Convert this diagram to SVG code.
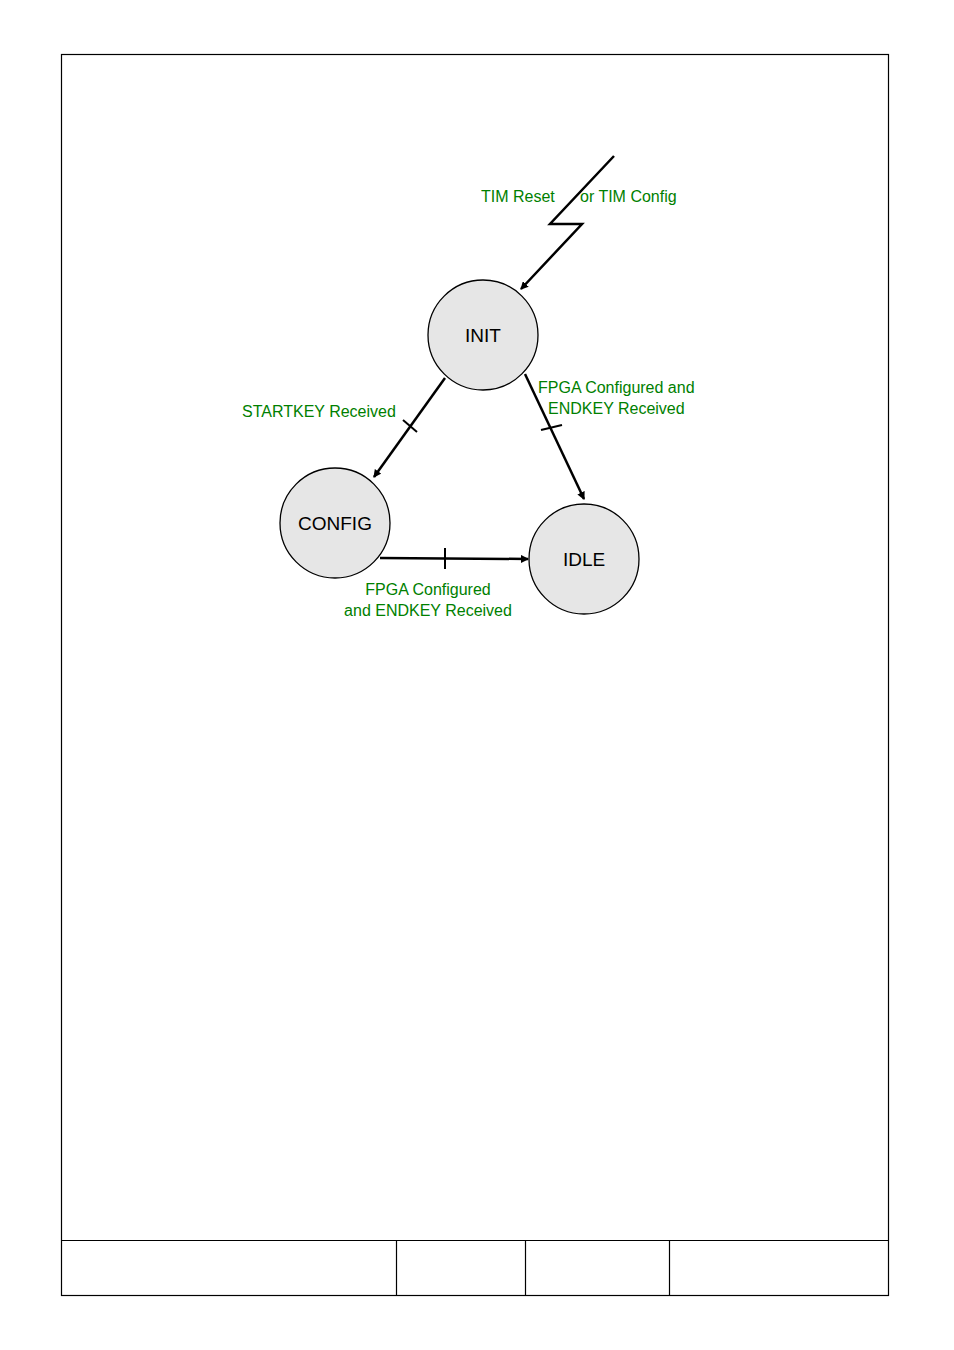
<svg xmlns="http://www.w3.org/2000/svg" width="954" height="1350" viewBox="0 0 954 1350">
<style>
.st{fill:#e6e6e6;stroke:#000;stroke-width:1.3}
.nl{font-family:"Liberation Sans",Arial,sans-serif;font-size:19px;fill:#000;text-anchor:middle}
.lb{font-family:"Liberation Sans",Arial,sans-serif;font-size:16px;fill:#008000}
.c{fill:none;stroke:#000;stroke-width:2.5}
.t{stroke:#000;stroke-width:2}
.f{fill:none;stroke:#000;stroke-width:1.2}
</style>
<defs><marker id="a" markerWidth="8" markerHeight="8" refX="7" refY="4" orient="auto" markerUnits="userSpaceOnUse" viewBox="0 0 8 8"><path d="M0,0L8,4L0,8z" fill="#000"/></marker></defs>
<g id="frame">
<rect x="61.5" y="54.5" width="827" height="1241" class="f"/>
<line x1="61" y1="1240.5" x2="889" y2="1240.5" class="f"/>
<line x1="396.5" y1="1240" x2="396.5" y2="1295" class="f"/>
<line x1="525.5" y1="1240" x2="525.5" y2="1295" class="f"/>
<line x1="669.5" y1="1240" x2="669.5" y2="1295" class="f"/>
</g>
<g id="connectors">
<path d="M614,156 L550,224 L582,224 L521,289" class="c" marker-end="url(#a)" style="stroke-width:2.5"/>
<line x1="445" y1="378" x2="374" y2="477" class="c" marker-end="url(#a)"/>
<line x1="403" y1="420" x2="417" y2="432" class="t"/>
<line x1="525" y1="374" x2="584" y2="499" class="c" marker-end="url(#a)"/>
<line x1="541" y1="430" x2="562" y2="425" class="t"/>
<line x1="380" y1="558" x2="528" y2="559" class="c" marker-end="url(#a)"/>
<line x1="445" y1="548" x2="445" y2="569" class="t"/>
</g>
<g id="INIT"><circle cx="483" cy="335" r="55" class="st"/><text x="483" y="342" class="nl">INIT</text></g>
<g id="CONFIG"><circle cx="335" cy="523" r="55" class="st"/><text x="335" y="530" class="nl">CONFIG</text></g>
<g id="IDLE"><circle cx="584" cy="559" r="55" class="st"/><text x="584" y="566" class="nl">IDLE</text></g>
<g id="labels">
<text x="481" y="202" class="lb">TIM Reset</text>
<text x="580" y="202" class="lb">or TIM Config</text>
<text x="242" y="417" class="lb">STARTKEY Received</text>
<text x="538" y="393" class="lb">FPGA Configured and</text>
<text x="548" y="414" class="lb">ENDKEY Received</text>
<text x="428" y="595" class="lb" text-anchor="middle">FPGA Configured</text>
<text x="428" y="616" class="lb" text-anchor="middle">and ENDKEY Received</text>
</g>
</svg>
